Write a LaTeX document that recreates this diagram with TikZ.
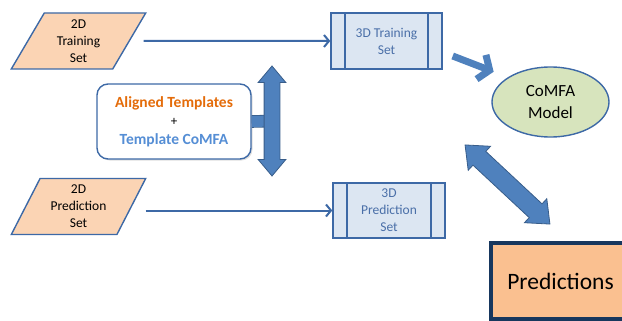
\documentclass[tikz,border=0pt]{standalone}
\usepackage{fontspec}
\setmainfont{Carlito}
\usetikzlibrary{
  shapes.geometric,
  shapes.arrows,
  arrows.meta,
  shadows
}
\definecolor{edgeblue}{HTML}{3D69A6}
\definecolor{peach}{HTML}{FBD4B4}
\definecolor{paleblue}{HTML}{DCE6F2}
\definecolor{textblue}{HTML}{4A6FA8}
\definecolor{sage}{HTML}{D7E4BD}
\definecolor{blockblue}{HTML}{4F81BD}
\definecolor{blockline}{HTML}{385D8A}
\definecolor{tplorange}{HTML}{E46C0A}
\definecolor{tplblue}{HTML}{558ED5}
\definecolor{resfill}{HTML}{FAC090}
\definecolor{navy}{HTML}{17375E}

\begin{document}
\begin{tikzpicture}[
  x=1pt, y=-1pt,
  every node/.style = {align=center, inner sep=0pt,
    font=\fontsize{13.5}{17}\selectfont},
  input/.style = {trapezium, trapezium left angle=64,
    trapezium right angle=116, trapezium stretches=true,
    draw=edgeblue, line width=1.4pt, fill=peach,
    minimum width=135pt, minimum height=56pt},
  stage/.style = {rectangle, draw=edgeblue, line width=1.4pt,
    fill=paleblue, text=textblue, minimum width=111pt, minimum height=56pt,
    path picture={
      \draw[edgeblue, line width=1.4pt]
        ([xshift=14pt]path picture bounding box.north west) --
        ([xshift=14pt]path picture bounding box.south west)
        ([xshift=-14pt]path picture bounding box.north east) --
        ([xshift=-14pt]path picture bounding box.south east);}},
  flow/.style = {edgeblue, line width=2pt,
    -{Straight Barb[length=5pt, width=12pt]}},
  block/.style = {double arrow, draw=blockline, line width=0.8pt,
    fill=blockblue, double arrow tip angle=80,
    double arrow head indent=0pt}]
  \clip (0,0) rectangle (622,321);

  % inputs and 3D sets
  \node[input] (tr2d) at (78.5,41) {2D\\Training\\Set};
  \node[input] (pr2d) at (78.5,206.5) {2D\\Prediction\\Set};
  \node[stage] (tr3d) at (386.5,41) {3D Training\\Set};
  \node[stage, minimum width=112pt, minimum height=55pt]
    (pr3d) at (389,210.5) {3D\\Prediction\\Set};

  \node[ellipse, draw=edgeblue, line width=1.4pt, fill=sage,
    minimum width=117pt, minimum height=70pt,
    font=\fontsize{17}{22}\selectfont] (model) at (550.5,102) {CoMFA\\Model};

  \node[rectangle, rounded corners=11pt, draw=edgeblue, line width=1.4pt,
    fill=white, minimum width=154pt, minimum height=75pt,
    drop shadow={shadow xshift=1.5pt, shadow yshift=-1.5pt, opacity=0.25},
    font=\bfseries\fontsize{15.5}{18.5}\selectfont] (tpl) at (174,121.5)
    {\textcolor{tplorange}{Aligned Templates}\\
     {\mdseries\fontsize{13}{18.5}\selectfont +}\\
     \textcolor{tplblue}{Template CoMFA}};

  \node[rectangle, draw=navy, line width=3.5pt, fill=resfill,
    minimum width=139pt, minimum height=76pt,
    drop shadow={shadow xshift=2pt, shadow yshift=-2pt, opacity=0.35},
    font=\fontsize{23.5}{28}\selectfont] (res) at (560.5,281) {Predictions};

  % connectors
  \draw[flow] ([xshift=13.5pt]tr2d.east) -- (tr3d.west);
  \draw[flow] ([xshift=13.5pt]pr2d.east |- pr3d.west) -- (pr3d.west);
  \draw[blockblue, line width=7pt,
    -{Straight Barb[length=9pt, width=26pt]}]
    ([shift={(10,15)}]tr3d.east) -- ([shift={(-15,-5)}]model.north west);

  \coordinate (hub) at (272,121);
  \draw[double=blockblue, double distance=11pt, draw=blockline,
    line width=0.8pt] (tpl.east) -- (hub);
  \node[block, rotate=90, minimum height=110pt, minimum width=25pt,
    inner sep=7.5pt, double arrow head extend=6pt] (vert) at (hub) {};
  \node[block, rotate=-43, minimum height=116pt, minimum width=30pt,
    inner sep=9pt, double arrow head extend=7pt] (link) at (507.5,184.5) {};
\end{tikzpicture}
\end{document}
